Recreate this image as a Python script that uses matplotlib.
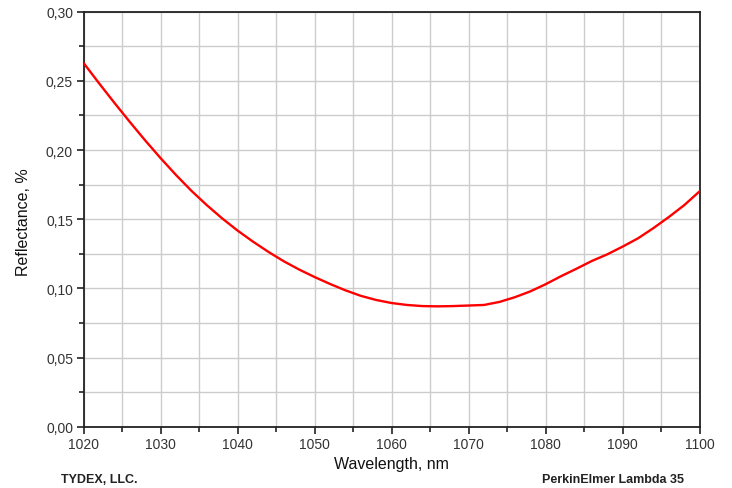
import matplotlib
matplotlib.use("Agg")
import matplotlib.pyplot as plt
from matplotlib.ticker import MultipleLocator, FuncFormatter

wavelength = [1020, 1022, 1024, 1026, 1028, 1030, 1032, 1034, 1036, 1038,
              1040, 1042, 1044, 1046, 1048, 1050, 1052, 1054, 1056, 1058,
              1060, 1062, 1064, 1066, 1068, 1070, 1072, 1074, 1076, 1078,
              1080, 1082, 1084, 1086, 1088, 1090, 1092, 1094, 1096, 1098, 1100]
reflectance = [0.2630, 0.2484, 0.2342, 0.2204, 0.2070, 0.1942, 0.1820, 0.1706, 0.1602, 0.1506,
               0.1418, 0.1338, 0.1264, 0.1196, 0.1136, 0.1082, 0.1032, 0.0986, 0.0946, 0.0916,
               0.0894, 0.0880, 0.0872, 0.0870, 0.0872, 0.0876, 0.0880, 0.0902, 0.0936, 0.0978,
               0.1030, 0.1088, 0.1142, 0.1198, 0.1246, 0.1302, 0.1362, 0.1436, 0.1516, 0.1602,
               0.1702]

plt.rcParams['font.family'] = ['Liberation Sans', 'DejaVu Sans']

W, H = 732, 489
fig = plt.figure(figsize=(W / 100, H / 100), dpi=100)
ax = fig.add_axes([83.5 / W, 1 - 427.7 / H, (699.7 - 83.5) / W, (427.7 - 12.7) / H])

ax.plot(wavelength, reflectance, color='#ff0000', lw=1.7, zorder=3,
        solid_joinstyle='round', solid_capstyle='round')

ax.set_xlim(1020, 1100)
ax.set_ylim(0, 0.30)
ax.xaxis.set_major_locator(MultipleLocator(10))
ax.xaxis.set_minor_locator(MultipleLocator(5))
ax.yaxis.set_major_locator(MultipleLocator(0.05))
ax.yaxis.set_minor_locator(MultipleLocator(0.025))
ax.yaxis.set_major_formatter(FuncFormatter(lambda v, p: f"{v:.2f}".replace('.', ',')))

ax.grid(True, which='both', color='#cccccc', lw=1.0, zorder=0)
ax.set_axisbelow(True)
for s in ax.spines.values():
    s.set_linewidth(1.3)
    s.set_color('#222222')
ax.tick_params(which='major', direction='out', length=5, width=1.2, color='#222222',
               labelsize=10, labelcolor='#333333', pad=2.5)
ax.tick_params(which='minor', direction='out', length=3.5, width=1.2, color='#222222')

fig.text(391 / W, 1 - 465 / H, 'Wavelength, nm', fontsize=11.5, color='#111111',
         ha='center', va='center')
fig.text(24 / W, 1 - 222 / H, 'Reflectance, %', fontsize=11.5, color='#111111',
         ha='center', va='center', rotation=90)

fig.text(61 / W, 1 - 480 / H, 'TYDEX, LLC.', fontsize=9, fontweight='bold',
         color='#222222', ha='left', va='center')
fig.text(542 / W, 1 - 480 / H, 'PerkinElmer Lambda 35', fontsize=9, fontweight='bold',
         color='#222222', ha='left', va='center')

fig.savefig('out.png', dpi=100)
